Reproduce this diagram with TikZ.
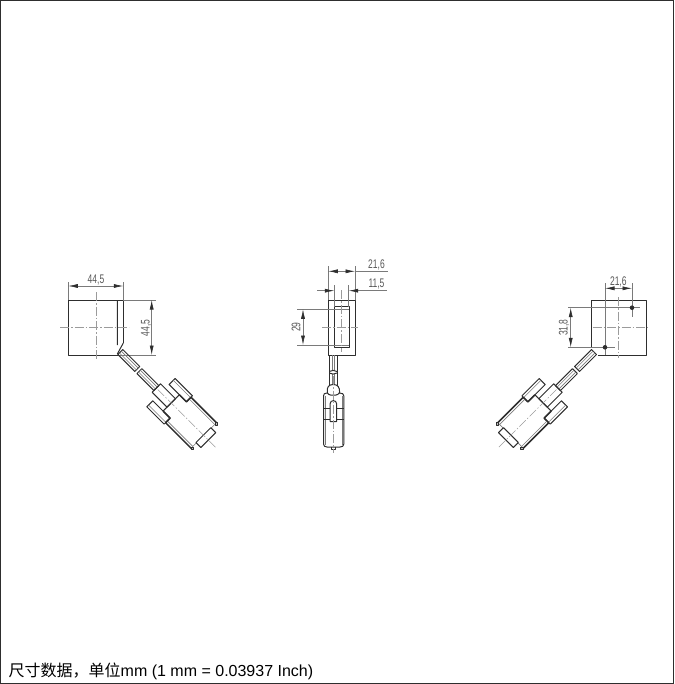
\documentclass[tikz,border=0pt]{standalone}
\usepackage{fontspec}
\setmainfont{Liberation Sans}
\newfontfamily\cjkfont{Noto Sans CJK SC}
\usetikzlibrary{arrows.meta}
\definecolor{ink}{HTML}{2E2E2E}
\definecolor{dimc}{HTML}{7A7A7A}
\tikzset{
  outl/.style={draw=ink,line width=1pt,line join=round},
  heavy/.style={draw=ink,line width=1.5pt,line join=round},
  thinl/.style={draw=dimc,line width=0.6pt},
  cent/.style={draw=dimc!75,line width=0.5pt,dash pattern=on 9pt off 2pt on 1.5pt off 2pt},
  dimline/.style={draw=dimc,line width=0.6pt,{Latex[length=9.5pt,width=4pt,color=ink]}-{Latex[length=9.5pt,width=4pt,color=ink]}},
  halfdim/.style={draw=dimc,line width=0.6pt,-{Latex[length=9.5pt,width=4pt,color=ink]}},
  dimtext/.style={font=\fontsize{12.5}{13}\selectfont,text=ink!80,inner sep=0pt,xscale=0.68},
  holedot/.style={fill=ink,draw=none}
}
\newcommand{\plugdrawing}{%
  \draw[outl] (0,-3.5) rectangle (24,3.5);
  \draw[thinl] (0,-1.3) -- (24,-1.3) (0,1.3) -- (24,1.3);
  \draw[outl] (27,-3.5) rectangle (51,3.5);
  \draw[thinl] (27,-1.3) -- (51,-1.3) (27,1.3) -- (51,1.3);
  \draw[outl] (51,-6) rectangle (72,6);
  \draw[outl,fill=white] (57.5,-20) rectangle (82,-11.5);
  \draw[thinl] (57.5,-17.5) -- (82,-17.5);
  \draw[outl,fill=white] (57.5,11.5) rectangle (82,20);
  \draw[thinl] (57.5,17.5) -- (82,17.5);
  \draw[outl] (72,-11.5) -- (72,11.5);
  \draw[heavy] (72,-11.5) -- (82,-11.5) -- (82,-18) -- (118.5,-18);
  \draw[heavy] (72,11.5) -- (82,11.5) -- (82,18) -- (118.5,18);
  \draw[thinl] (83,-15.5) -- (118,-15.5) (83,15.5) -- (118,15.5);
  \draw[thinl] (118,-18) -- (118,18);
  \draw[outl,fill=white] (117.5,-10.5) rectangle (124.5,10.5);
  \draw[outl,fill=dimc!50] (119,-17) circle (1.6);
  \draw[outl,fill=dimc!50] (119,17) circle (1.6);
  \draw[cent] (53,0) -- (135,0);
}
\begin{document}
\begin{tikzpicture}[x=1pt,y=-1pt]
\useasboundingbox (0,0) rectangle (674,684);
\draw[draw=ink,line width=1pt] (0.5,0.5) rectangle (673.5,683);

% ---------- left view
\draw[outl] (123.3,343) -- (123.3,300) -- (68.3,300) -- (68.3,355) -- (117.5,355);
\draw[outl] (117.3,300) -- (117.3,345) (123.3,343) -- (117.3,354);
\draw[cent] (60,327.5) -- (129,327.5) (96,292) -- (96,360);
\draw[thinl] (68.3,282) -- (68.3,300) (123.3,282) -- (123.3,300);
\draw[dimline] (68.3,286) -- (123.3,286);
\node[dimtext] (leftw) at (96,280) {44,5};
\draw[thinl] (123.3,300) -- (156,300) (118,355) -- (156,355);
\draw[dimline] (151.7,300) -- (151.7,355);
\node[rotate=90,dimtext] (lefth) at (146,328) {44,5};
\begin{scope}[shift={(120.3,352)},cm={0.7071,-0.7071,-0.7071,-0.7071,(0,0)}]
  \plugdrawing
\end{scope}

% ---------- middle view
\draw[outl] (328.3,300) rectangle (355,355.3);
\draw[outl] (334.3,306.7) rectangle (349,347.7);
\draw[thinl] (334.3,309) -- (349,309) (334.3,345.3) -- (349,345.3);
\draw[cent] (322,327.3) -- (358,327.3) (341.7,290) -- (341.7,352);
\draw[thinl] (328.3,266) -- (328.3,300) (355,266) -- (355,300);
\draw[thinl] (334.3,285) -- (334.3,306.7) (348.7,285) -- (348.7,306.7);
\draw[dimline] (328.3,271.3) -- (355,271.3);
\draw[thinl] (355,271.3) -- (388,271.3);
\node[dimtext] (midw) at (376.5,265) {21,6};
\draw[halfdim] (317.3,290.7) -- (334.3,290.7);
\draw[halfdim] (386.7,290.7) -- (348.7,290.7);
\node[dimtext] (midi) at (376.5,284) {11,5};
\draw[thinl] (297,309.3) -- (334.3,309.3) (297,345) -- (334.3,345);
\draw[dimline] (303,309.3) -- (303,345);
\node[rotate=90,dimtext] (midh) at (296,327) {29};
% middle plug
\draw[outl] (329.3,355.3) -- (329.3,386) (337,355.3) -- (337,386);
\draw[thinl] (331.8,355.3) -- (331.8,371) (334.4,355.3) -- (334.4,371) (331.8,374) -- (331.8,386) (334.4,374) -- (334.4,386);
\draw[outl] (329.3,371.5) .. controls (331.5,370) and (334.7,370) .. (337,371.5);
\draw[outl] (329.3,373) .. controls (331.5,374.5) and (334.7,374.5) .. (337,373);
\draw[outl] (323.5,444) -- (323.5,396) .. controls (323.5,394) and (324.5,393) .. (327,393) -- (339.5,393) .. controls (342.5,393) and (343.8,394) .. (343.8,396) -- (343.8,444) .. controls (343.8,446) and (342.5,447) .. (340,447) -- (327,447) .. controls (325,447) and (323.5,446) .. (323.5,444);
\draw[thinl] (325,396) -- (325,445) (342.3,396) -- (342.3,445);
\draw[outl,fill=white] (327.3,392.5) .. controls (326.5,387) and (329,384.5) .. (333.2,384.5) .. controls (337.5,384.5) and (340,387) .. (339.6,392.5) .. controls (339,394) and (337,395) .. (336,395) -- (330.5,395) .. controls (329,395) and (327.8,394) .. (327.3,392.5);
\draw[outl] (330,421.5) -- (330,404) .. controls (330,399.5) and (336.7,399.5) .. (336.7,404) -- (336.7,421.5) -- (330,421.5);
\draw[outl] (323.5,408.5) -- (330,408.5) (336.7,408.5) -- (343.8,408.5);
\draw[outl] (323.5,419.5) -- (330,419.5) (336.7,419.5) -- (343.8,419.5);
\draw[outl] (331.7,447) -- (331.7,449) -- (335,449) -- (335,447);
\draw[cent] (333.3,376) -- (333.3,453);

% ---------- right view
\draw[outl] (591,348) -- (591,300) -- (646,300) -- (646,355) -- (597.5,355);
\draw[cent] (592.7,327) -- (648,327) (618.3,297) -- (618.3,358);
\draw[thinl] (568,307.7) -- (640,307.7) (568,347.3) -- (615,347.3);
\draw[thinl] (632,283) -- (632,317) (605,283) -- (605,355);
\fill[holedot] (632,307.7) circle (2.3);
\fill[holedot] (605,347.3) circle (2.3);
\draw[dimline] (605,288.3) -- (632,288.3);
\node[dimtext] (rightw) at (618.3,282) {21,6};
\draw[dimline] (570.7,307.7) -- (570.7,347.3);
\node[rotate=90,dimtext] (righth) at (564,327.7) {31,8};
\begin{scope}[shift={(594,352)},cm={-0.7071,-0.7071,0.7071,-0.7071,(0,0)}]
  \plugdrawing
\end{scope}

\node[anchor=base west,inner sep=0pt,font=\fontsize{16}{18}\selectfont,text=black] (note) at (8.5,676) {{\cjkfont 尺寸数据，单位}mm (1 mm = 0.03937 Inch)};
\end{tikzpicture}
\end{document}
